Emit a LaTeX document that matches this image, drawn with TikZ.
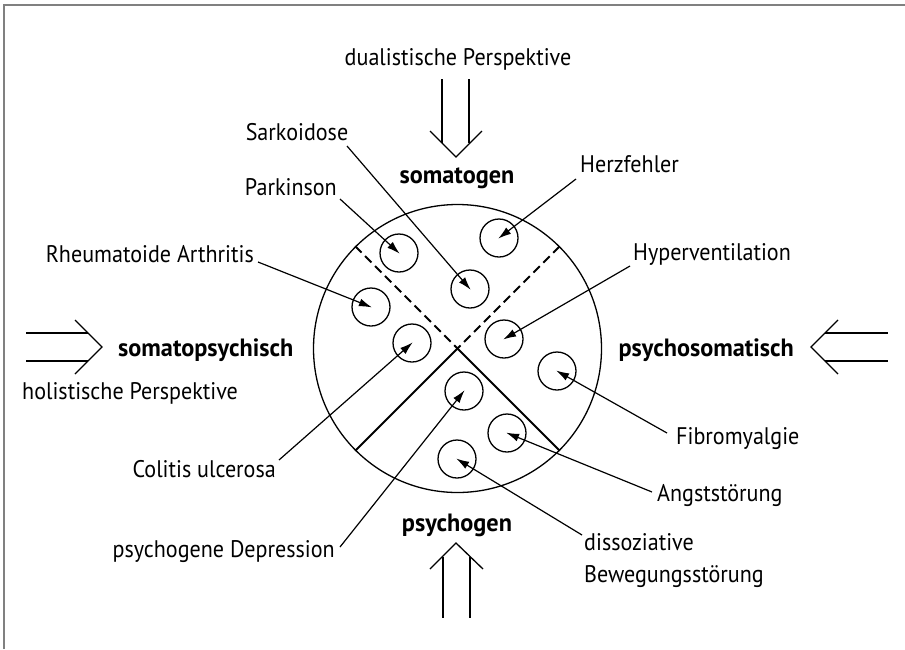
\documentclass[tikz,border=0pt]{standalone}
\usepackage{fontspec}
\setmainfont{PT Sans}[FakeStretch=0.92, BoldFeatures={FakeStretch=0.97}]
\usetikzlibrary{arrows.meta}
\begin{document}
\begin{tikzpicture}[x=1pt,y=-1pt,
  lbl/.style={inner sep=0pt, font=\fontsize{24}{28}\selectfont},
  ttl/.style={inner sep=0pt, font=\fontsize{25}{29}\selectfont\bfseries},
  smallc/.style={circle, draw, line width=1.3pt, minimum size=38pt, inner sep=0pt},
  ptr/.style={line width=1.2pt, -{Latex[length=13pt,width=8pt]}, shorten >=-1pt},
  dbl/.style={line width=1.3pt},
  divline/.style={line width=1.8pt}]
\useasboundingbox (0,0) rectangle (905,649);
\draw[black!50, line width=2.5pt] (4,649) -- (4,5) -- (905,5);

% big circle
\node[circle, draw, minimum size=288pt, inner sep=0pt, line width=1.3pt] (big) at (457.5,348.5) {};
\draw[divline, dash pattern=on 9pt off 5pt] (big.north west) -- (big.center) -- (big.north east);
\draw[divline] (big.south west) -- (big.center) -- (big.south east);

% small circles
\node[smallc] (cPark) at (399,253) {};
\node[smallc] (cHerz) at (499,238) {};
\node[smallc] (cSark) at (470,289) {};
\node[smallc] (cRheu) at (371,307) {};
\node[smallc] (cCol)  at (412,343) {};
\node[smallc] (cHyp)  at (504,339) {};
\node[smallc] (cFib)  at (557,371) {};
\node[smallc] (cDep)  at (464,391) {};
\node[smallc] (cAng)  at (507,433) {};
\node[smallc] (cDis)  at (457,459) {};

% titles
\node[lbl, anchor=base] (tDual) at (458,65) {dualistische Perspektive};
\node[ttl, anchor=base] (tSomg) at (457,183) {somatogen};
\node[ttl, anchor=base west] (tSomps) at (118,356) {somatopsychisch};
\node[ttl, anchor=base east] (tPsysom) at (794,356) {psychosomatisch};
\node[lbl, anchor=base west] (tHol) at (22,399) {holistische Perspektive};
\node[ttl, anchor=base] (tPsyg) at (457,531) {psychogen};

% labels
\node[lbl, anchor=base] (lSark) at (297,140) {Sarkoidose};
\node[lbl, anchor=base west] (lHerz) at (580,172) {Herzfehler};
\node[lbl, anchor=base east] (lPark) at (337,195) {Parkinson};
\node[lbl, anchor=base east] (lRheu) at (254,262) {Rheumatoide Arthritis};
\node[lbl, anchor=base west] (lHyp) at (633,260) {Hyperventilation};
\node[lbl, anchor=base west] (lFib) at (676,444) {Fibromyalgie};
\node[lbl, anchor=base east] (lCol) at (276,477) {Colitis ulcerosa};
\node[lbl, anchor=base west] (lAng) at (657,501) {Angststörung};
\node[lbl, anchor=base east] (lDep) at (335,557) {psychogene Depression};
\node[lbl, anchor=base west] (lDis) at (584,550) {dissoziative};
\node[lbl, anchor=base west] (lBew) at (584,582) {Bewegungsstörung};

% tails
\coordinate (sSark) at (347,146);
\coordinate (sHerz) at (576,179);
\coordinate (sPark) at (340,199);
\coordinate (sRheu) at (258,262);
\coordinate (sHyp)  at (630,266);
\coordinate (sFib)  at (667,433);
\coordinate (sCol)  at (279,460);
\coordinate (sAng)  at (652,492);
\coordinate (sDep)  at (340,547);
\coordinate (sDis)  at (582,535);

\draw[ptr] (sSark) -- (cSark.center);
\draw[ptr] (sHerz) -- (cHerz.center);
\draw[ptr] (sPark) -- (cPark.center);
\draw[ptr] (sRheu) -- (cRheu.center);
\draw[ptr] (sHyp)  -- (cHyp.center);
\draw[ptr] (sFib)  -- (cFib.center);
\draw[ptr] (sCol)  -- (cCol.center);
\draw[ptr] (sAng)  -- (cAng.center);
\draw[ptr] (sDep)  -- (cDep.center);
\draw[ptr] (sDis)  -- (cDis.center);

% double arrows
% top
\coordinate (aT) at (456,157);
\draw[dbl] (442,79) -- (442,143);
\draw[dbl] (469,79) -- (469,143);
\draw[dbl] (430,131) -- (aT) -- (482,131);
% bottom
\coordinate (aB) at (456,543);
\draw[dbl] (443,557) -- (443,618);
\draw[dbl] (470,557) -- (470,618);
\draw[dbl] (430,569) -- (aB) -- (483,569);
% left
\coordinate (aL) at (102,347);
\draw[dbl] (26,333) -- (88,333);
\draw[dbl] (26,361) -- (88,361);
\draw[dbl] (75,320) -- (aL) -- (75,374);
% right
\coordinate (aR) at (811,347);
\draw[dbl] (825,333) -- (888,333);
\draw[dbl] (825,361) -- (888,361);
\draw[dbl] (838,320) -- (aR) -- (838,374);
\end{tikzpicture}
\end{document}
